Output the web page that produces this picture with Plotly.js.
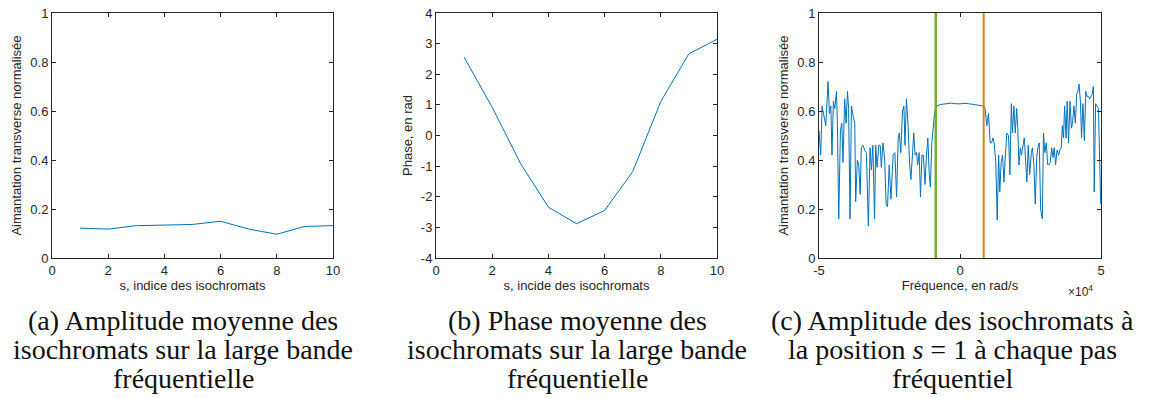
<!DOCTYPE html>
<html>
<head>
<meta charset="utf-8">
<script src="https://cdn.plot.ly/plotly-3.0.1.min.js"></script>
<style>
html, body { margin: 0; padding: 0; background: #ffffff; }
#chart { width: 1150px; height: 398px; }
</style>
</head>
<body>
<div id="chart"></div>
<script>
// ---------- data ----------
const isoIndex = [1, 2, 3, 4, 5, 6, 7, 8, 9, 10];
const meanAmplitude = [0.122, 0.118, 0.132, 0.133, 0.137, 0.150, 0.118, 0.097, 0.129, 0.132];
const meanPhase = [2.56, 0.92, -0.90, -2.34, -2.88, -2.45, -1.18, 1.11, 2.67, 3.14];

// frequency (x 10^4 rad/s), normalised transverse magnetisation for s = 1
const spectrumPoints = [
  [-5.00, 0.52], [-4.94, 0.42], [-4.89, 0.62], [-4.80, 0.57], [-4.76, 0.54], [-4.68, 0.72],
  [-4.63, 0.59], [-4.58, 0.62], [-4.54, 0.42], [-4.49, 0.64], [-4.44, 0.61], [-4.38, 0.68],
  [-4.35, 0.56], [-4.30, 0.16], [-4.24, 0.52], [-4.19, 0.55], [-4.15, 0.39], [-4.09, 0.65],
  [-4.04, 0.55], [-3.99, 0.68], [-3.95, 0.61], [-3.90, 0.16], [-3.85, 0.62], [-3.79, 0.58],
  [-3.73, 0.55], [-3.70, 0.23], [-3.64, 0.40], [-3.59, 0.38], [-3.54, 0.26], [-3.50, 0.45],
  [-3.44, 0.46], [-3.38, 0.44], [-3.32, 0.43], [-3.25, 0.13], [-3.19, 0.45], [-3.14, 0.36],
  [-3.09, 0.46], [-3.03, 0.16], [-2.99, 0.46], [-2.94, 0.37], [-2.88, 0.46], [-2.83, 0.46],
  [-2.79, 0.37], [-2.73, 0.47], [-2.67, 0.40], [-2.62, 0.22], [-2.57, 0.21], [-2.51, 0.38],
  [-2.45, 0.24], [-2.37, 0.42], [-2.31, 0.43], [-2.25, 0.25], [-2.19, 0.49], [-2.15, 0.51],
  [-2.10, 0.43], [-2.04, 0.60], [-1.99, 0.62], [-1.95, 0.46], [-1.90, 0.65], [-1.84, 0.54],
  [-1.79, 0.39], [-1.74, 0.32], [-1.69, 0.42], [-1.64, 0.51], [-1.59, 0.42], [-1.54, 0.43],
  [-1.50, 0.38], [-1.45, 0.43], [-1.40, 0.25], [-1.35, 0.42], [-1.30, 0.42], [-1.24, 0.30],
  [-1.19, 0.42], [-1.14, 0.49], [-1.09, 0.34], [-1.05, 0.29], [-1.00, 0.47], [-0.95, 0.54],
  [-0.90, 0.59], [-0.86, 0.62], [-0.80, 0.623], [-0.70, 0.626], [-0.60, 0.628], [-0.50, 0.630],
  [-0.40, 0.631], [-0.30, 0.632], [-0.20, 0.630], [-0.10, 0.628], [0.00, 0.629], [0.10, 0.631],
  [0.20, 0.632], [0.30, 0.630], [0.40, 0.628], [0.50, 0.626], [0.60, 0.623], [0.70, 0.621],
  [0.80, 0.620], [0.85, 0.62], [0.89, 0.61], [0.95, 0.54], [1.01, 0.59], [1.07, 0.47],
  [1.12, 0.47], [1.17, 0.49], [1.21, 0.47], [1.27, 0.39], [1.32, 0.155], [1.37, 0.42],
  [1.41, 0.27], [1.46, 0.39], [1.51, 0.42], [1.56, 0.31], [1.60, 0.40], [1.66, 0.51],
  [1.72, 0.50], [1.77, 0.34], [1.82, 0.63], [1.86, 0.51], [1.91, 0.62], [1.96, 0.51],
  [2.01, 0.61], [2.05, 0.53], [2.09, 0.38], [2.14, 0.45], [2.18, 0.42], [2.23, 0.46],
  [2.28, 0.49], [2.33, 0.39], [2.37, 0.31], [2.42, 0.46], [2.47, 0.34], [2.53, 0.43],
  [2.57, 0.45], [2.62, 0.38], [2.67, 0.22], [2.72, 0.41], [2.76, 0.45], [2.81, 0.47],
  [2.86, 0.20], [2.92, 0.16], [2.96, 0.51], [3.01, 0.43], [3.06, 0.47], [3.11, 0.38],
  [3.15, 0.38], [3.20, 0.39], [3.25, 0.45], [3.30, 0.41], [3.34, 0.45], [3.39, 0.38],
  [3.44, 0.44], [3.50, 0.42], [3.54, 0.44], [3.59, 0.45], [3.63, 0.54], [3.67, 0.49],
  [3.71, 0.62], [3.76, 0.49], [3.80, 0.64], [3.85, 0.47], [3.90, 0.64], [3.95, 0.53],
  [3.99, 0.55], [4.04, 0.62], [4.09, 0.55], [4.14, 0.67], [4.18, 0.68], [4.22, 0.71],
  [4.27, 0.64], [4.31, 0.49], [4.36, 0.63], [4.41, 0.48], [4.46, 0.68], [4.50, 0.66],
  [4.55, 0.66], [4.60, 0.65], [4.65, 0.66], [4.69, 0.67], [4.73, 0.70], [4.76, 0.27],
  [4.81, 0.63], [4.86, 0.62], [4.91, 0.61], [4.99, 0.22]
];
const bandEdges = [-0.86, 0.84];

const ticksA_x = [0, 2, 4, 6, 8, 10];
const ticksA_y = [0, 0.2, 0.4, 0.6, 0.8, 1];
const ticksB_y = [-4, -3, -2, -1, 0, 1, 2, 3, 4];
const ticksC_x = [-5, 0, 5];

const captions = {
  a: ['(a) Amplitude moyenne des', 'isochromats sur la large bande', 'fréquentielle'],
  b: ['(b) Phase moyenne des', 'isochromats sur la large bande', 'fréquentielle'],
  c: ['(c) Amplitude des isochromats à', 'la position <i>s</i> = 1 à chaque pas', 'fréquentiel']
};

// ---------- figure ----------
const W = 1150, H = 398;
const BLUE = '#0072BD';
const AX = '#262626';
const sans = 'Liberation Sans, Arial, Helvetica, sans-serif';
const serif = 'Liberation Serif, Times New Roman, serif';

const yDom = [1 - 258 / H, 1 - 13 / H];
function axis(extra) {
  return Object.assign({
    showline: true, mirror: 'ticks', linecolor: AX, linewidth: 1,
    ticks: 'inside', ticklen: 4, tickwidth: 1, tickcolor: AX,
    showgrid: false, zeroline: false, fixedrange: true,
    tickfont: { family: sans, size: 13, color: AX }
  }, extra);
}
const lab = v => String(v);

const traces = [
  { x: isoIndex, y: meanAmplitude, xaxis: 'x', yaxis: 'y', type: 'scatter', mode: 'lines',
    line: { color: BLUE, width: 1 }, hoverinfo: 'skip' },
  { x: isoIndex, y: meanPhase, xaxis: 'x2', yaxis: 'y2', type: 'scatter', mode: 'lines',
    line: { color: BLUE, width: 1 }, hoverinfo: 'skip' },
  { x: spectrumPoints.map(p => p[0]), y: spectrumPoints.map(p => p[1]), xaxis: 'x3', yaxis: 'y3',
    type: 'scatter', mode: 'lines', line: { color: BLUE, width: 1 }, hoverinfo: 'skip' },
  { x: [bandEdges[0], bandEdges[0]], y: [0, 1], xaxis: 'x3', yaxis: 'y3', type: 'scatter', mode: 'lines',
    line: { color: '#77AC30', width: 2.5 }, hoverinfo: 'skip' },
  { x: [bandEdges[1], bandEdges[1]], y: [0, 1], xaxis: 'x3', yaxis: 'y3', type: 'scatter', mode: 'lines',
    line: { color: '#D4851C', width: 2 }, hoverinfo: 'skip' }
];

const titleFont = { family: sans, size: 13, color: AX };
const layout = {
  width: W, height: H,
  margin: { l: 0, r: 0, t: 0, b: 0 },
  paper_bgcolor: '#ffffff', plot_bgcolor: '#ffffff',
  showlegend: false,
  xaxis: axis({ domain: [52 / W, 333 / W], anchor: 'y', range: [0, 10],
    tickvals: ticksA_x, ticktext: ticksA_x.map(lab),
    title: { text: 's, indice des isochromats', font: titleFont, standoff: 3 } }),
  yaxis: axis({ domain: yDom, anchor: 'x', range: [0, 1],
    tickvals: ticksA_y, ticktext: ticksA_y.map(lab),
    title: { text: 'Aimantation transverse normalisée', font: titleFont, standoff: 5 } }),
  xaxis2: axis({ domain: [436 / W, 717 / W], anchor: 'y2', range: [0, 10],
    tickvals: ticksA_x, ticktext: ticksA_x.map(lab),
    title: { text: 's, incide des isochromats', font: titleFont, standoff: 3 } }),
  yaxis2: axis({ domain: yDom, anchor: 'x2', range: [-4, 4],
    tickvals: ticksB_y, ticktext: ticksB_y.map(lab),
    title: { text: 'Phase, en rad', font: titleFont, standoff: 5 } }),
  xaxis3: axis({ domain: [819 / W, 1101 / W], anchor: 'y3', range: [-5, 5],
    tickvals: ticksC_x, ticktext: ticksC_x.map(lab),
    title: { text: 'Fréquence, en rad/s', font: titleFont, standoff: 3 } }),
  yaxis3: axis({ domain: yDom, anchor: 'x3', range: [0, 1],
    tickvals: ticksA_y, ticktext: ticksA_y.map(lab),
    title: { text: 'Aimantation transverse normalisée', font: titleFont, standoff: 5 } }),
  annotations: []
};

layout.annotations.push({
  xref: 'paper', yref: 'paper', x: 1095 / W, y: 1 - 291 / H, xanchor: 'right', yanchor: 'middle',
  text: '×10<sup>4</sup>', showarrow: false, font: { family: sans, size: 12, color: AX }
});

const capCenters = { a: 183, b: 577, c: 952 };
const capLines = [320, 349, 378];
Object.keys(captions).forEach(k => {
  captions[k].forEach((t, i) => {
    layout.annotations.push({
      xref: 'paper', yref: 'paper', x: capCenters[k] / W, y: 1 - capLines[i] / H,
      xanchor: 'center', yanchor: 'middle', showarrow: false, text: t,
      font: { family: serif, size: 28, color: '#111111' }
    });
  });
});

Plotly.newPlot('chart', traces, layout, { staticPlot: true, displayModeBar: false });
</script>
</body>
</html>
